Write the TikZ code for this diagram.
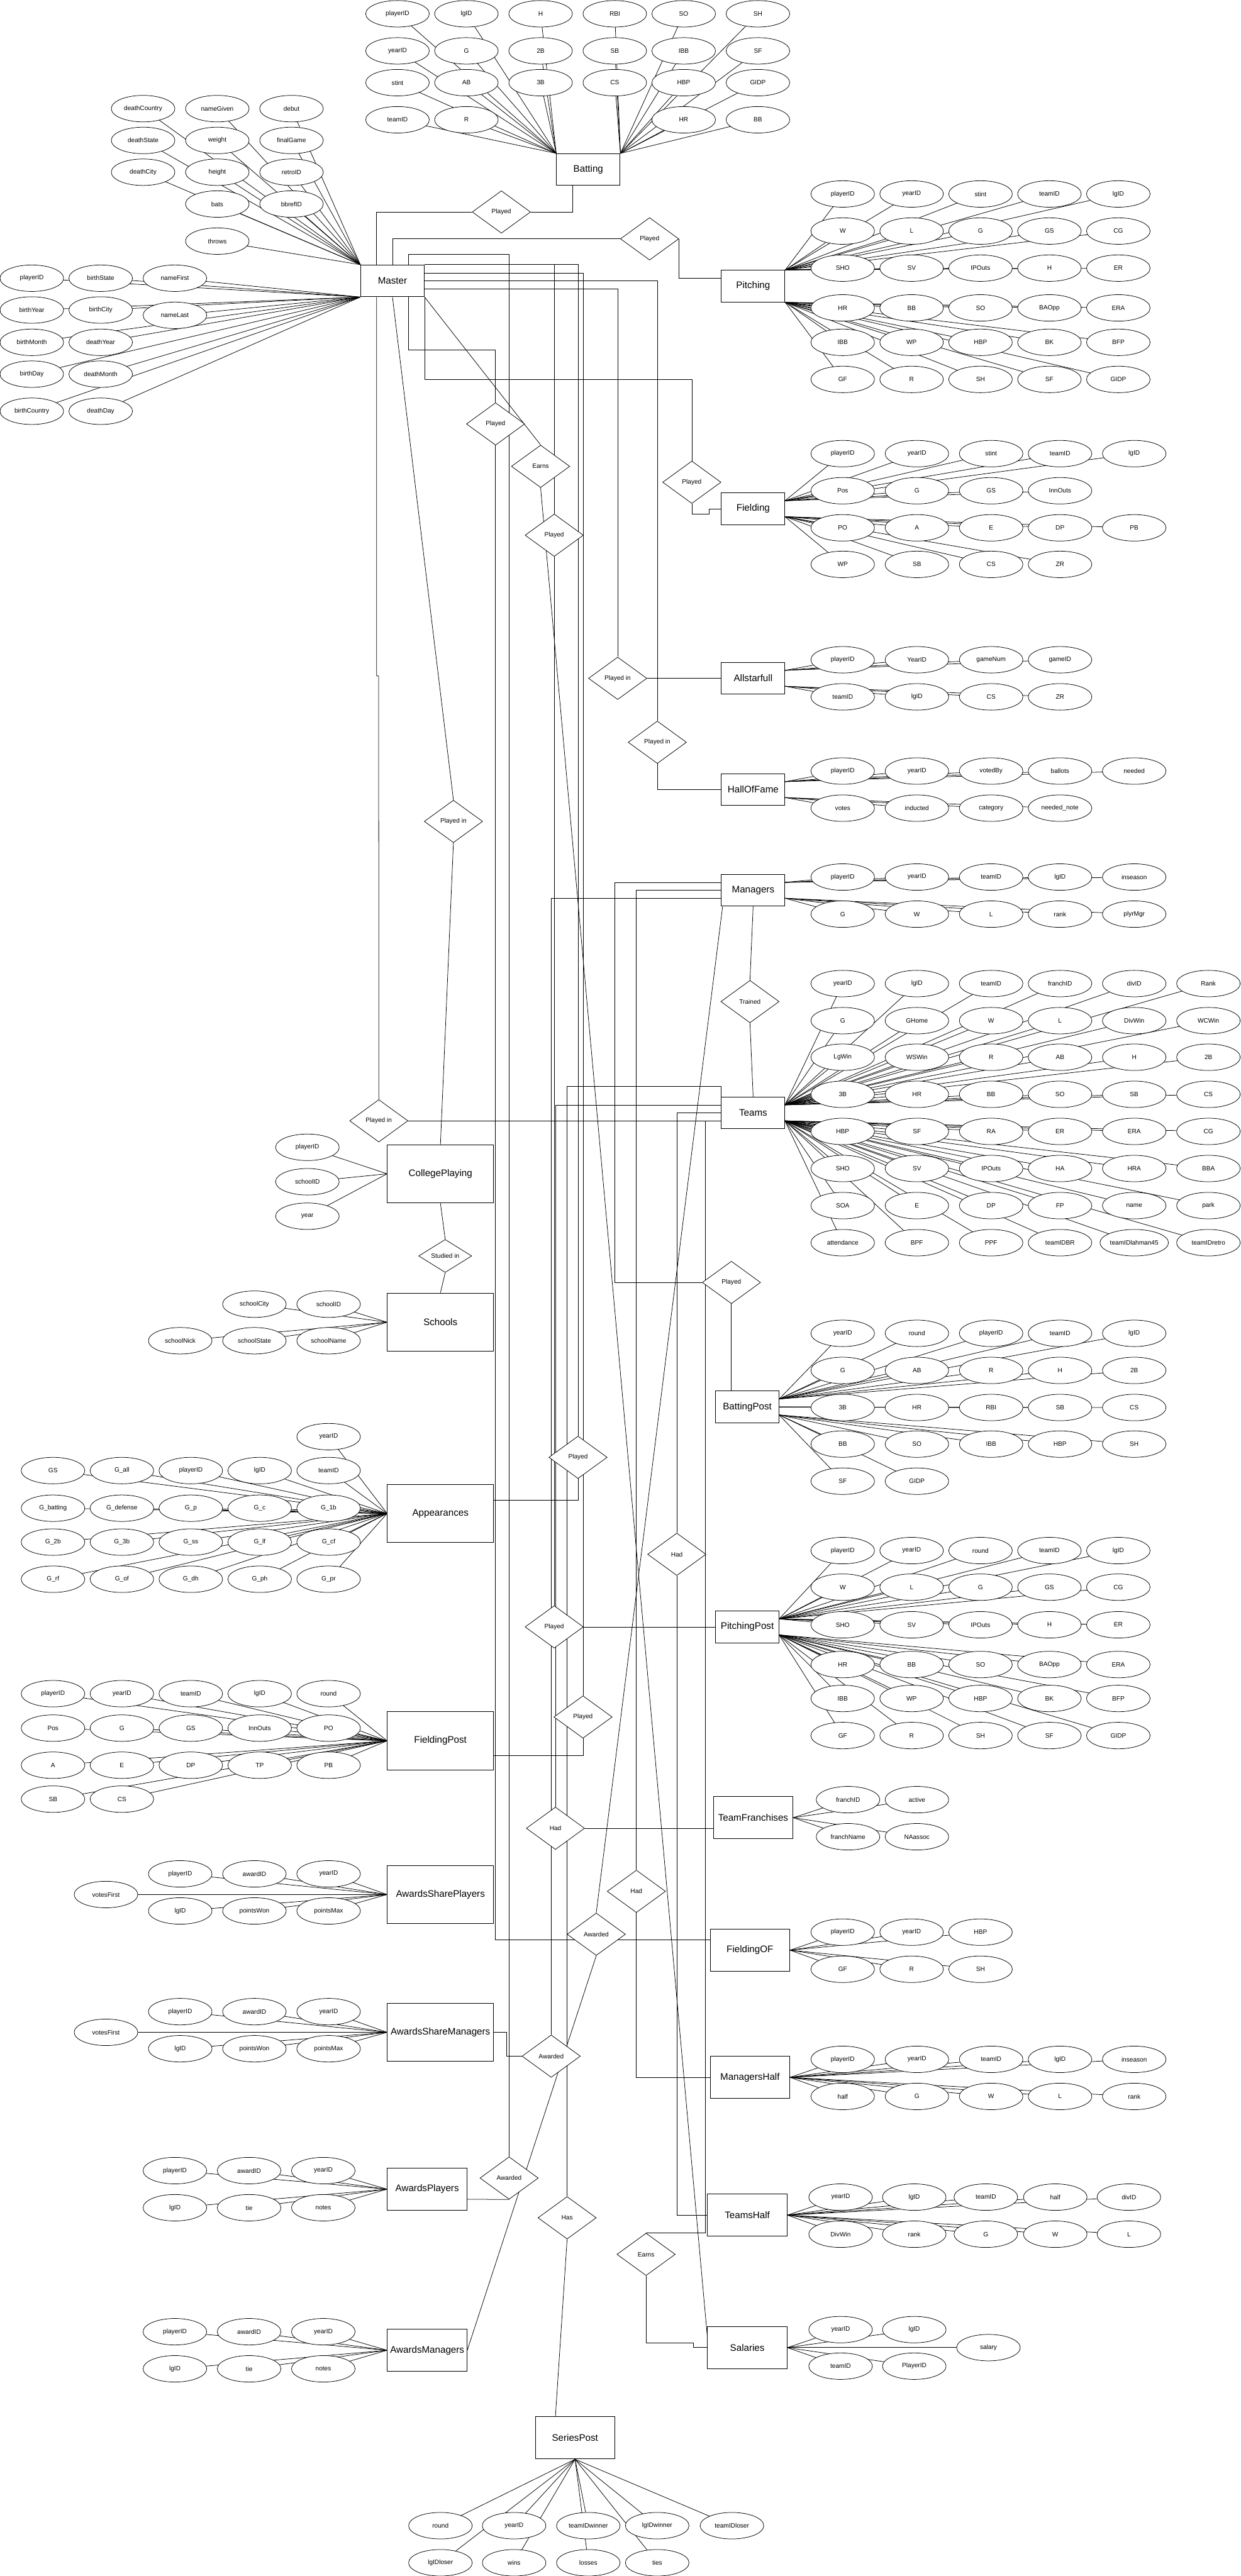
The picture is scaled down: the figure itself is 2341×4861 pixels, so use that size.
\documentclass[tikz,border=0pt]{standalone}
\usepackage{fontspec}
\setmainfont{Liberation Sans}
\usetikzlibrary{shapes.geometric}
\pgfdeclarelayer{bg}
\pgfsetlayers{bg,main}
\tikzset{
 attrib/.style={ellipse, draw, fill=white, line width=0.9pt, minimum width=120pt, minimum height=50pt, inner sep=0pt, font=\fontsize{12}{14}\selectfont},
 entity/.style={rectangle, draw, fill=white, line width=1.2pt, minimum width=120pt, minimum height=60pt, inner sep=0pt, font=\fontsize{18}{21}\selectfont},
 bigent/.style={entity, minimum width=200pt, minimum height=110pt},
 mident/.style={entity, minimum width=150pt, minimum height=80pt},
 rel/.style={diamond, draw, fill=white, line width=0.9pt, minimum width=110pt, minimum height=80pt, inner sep=0pt, font=\fontsize{12}{14}\selectfont},
 link/.style={draw, line width=0.9pt},
}
\def\linklist{}
\makeatletter
\newcommand\At[5]{\node[attrib] (#1) at (#2,#3) {#4};\g@addto@macro\linklist{\draw[link] (#1.center) -- (#5);}}
\makeatother
\begin{document}
\begin{tikzpicture}[x=1pt,y=-1pt]
\useasboundingbox (0,0) rectangle (2341,4861);
% ---------- Batting
\node[entity] (Batting) at (1110,320) {Batting};
\coordinate (baL) at (Batting.north west); \coordinate (baR) at (Batting.north east);
\At{ba1}{750}{26}{playerID}{baL}
\At{ba2}{880}{26}{lgID}{baL}
\At{ba3}{1020}{26}{H}{baL}
\At{ba4}{1160}{26}{RBI}{baR}
\At{ba5}{1290}{26}{SO}{baR}
\At{ba6}{1430}{26}{SH}{baR}
\At{ba7}{750}{96}{yearID}{baL}
\At{ba8}{880}{96}{G}{baL}
\At{ba9}{1020}{96}{2B}{baL}
\At{ba10}{1160}{96}{SB}{baR}
\At{ba11}{1290}{96}{IBB}{baR}
\At{ba12}{1430}{96}{SF}{baR}
\At{ba13}{750}{156}{stint}{baL}
\At{ba14}{880}{156}{AB}{baL}
\At{ba15}{1020}{156}{3B}{baL}
\At{ba16}{1160}{156}{CS}{baR}
\At{ba17}{1290}{156}{HBP}{baR}
\At{ba18}{1430}{156}{GIDP}{baR}
\At{ba19}{750}{226}{teamID}{baL}
\At{ba20}{880}{226}{R}{baL}
\At{ba21}{1290}{226}{HR}{baR}
\At{ba22}{1430}{226}{BB}{baR}
% ---------- Master
\node[entity] (Master) at (740.5,530) {Master};
\coordinate (mNW) at (Master.north west); \coordinate (mSW) at (Master.south west);
\At{m1}{270}{205}{deathCountry}{mNW}
\At{m2}{410}{205}{nameGiven}{mNW}
\At{m3}{550}{205}{debut}{mNW}
\At{m4}{270}{265}{deathState}{mNW}
\At{m5}{410}{265}{weight}{mNW}
\At{m6}{550}{265}{finalGame}{mNW}
\At{m7}{270}{325}{deathCity}{mNW}
\At{m8}{410}{325}{height}{mNW}
\At{m9}{550}{325}{retroID}{mNW}
\At{m10}{410}{385}{bats}{mNW}
\At{m11}{550}{385}{bbrefID}{mNW}
\At{m12}{410}{455}{throws}{mNW}
\At{m13}{60}{525}{playerID}{mSW}
\At{m14}{190}{525}{birthState}{mSW}
\At{m15}{330}{525}{nameFirst}{mSW}
\At{m16}{60}{585}{birthYear}{mSW}
\At{m17}{190}{585}{birthCity}{mSW}
\At{m18}{330}{595}{nameLast}{mSW}
\At{m19}{60}{646}{birthMonth}{mSW}
\At{m20}{190}{646}{deathYear}{mSW}
\At{m21}{60}{706}{birthDay}{mSW}
\At{m22}{190}{706}{deathMonth}{mSW}
\At{m23}{60}{776}{birthCountry}{mSW}
\At{m24}{190}{776}{deathDay}{mSW}
% ---------- Pitching
\node[entity] (Pitching) at (1421,540) {Pitching};
\coordinate (pA) at (Pitching.north east); \coordinate (pB) at (Pitching.south east);
\At{p1}{1590}{366}{playerID}{pA}
\At{p2}{1720}{366}{yearID}{pA}
\At{p3}{1850}{366}{stint}{pA}
\At{p4}{1980}{366}{teamID}{pA}
\At{p5}{2110}{366}{lgID}{pA}
\At{p6}{1590}{436}{W}{pA}
\At{p7}{1720}{436}{L}{pA}
\At{p8}{1850}{436}{G}{pA}
\At{p9}{1980}{436}{GS}{pA}
\At{p10}{2110}{436}{CG}{pA}
\At{p11}{1590}{506}{SHO}{pA}
\At{p12}{1720}{506}{SV}{pA}
\At{p13}{1850}{506}{IPOuts}{pA}
\At{p14}{1980}{506}{H}{pA}
\At{p15}{2110}{506}{ER}{pA}
\At{p16}{1590}{581}{HR}{pB}
\At{p17}{1720}{581}{BB}{pB}
\At{p18}{1850}{581}{SO}{pB}
\At{p19}{1980}{581}{BAOpp}{pB}
\At{p20}{2110}{581}{ERA}{pB}
\At{p21}{1590}{646}{IBB}{pB}
\At{p22}{1720}{646}{WP}{pB}
\At{p23}{1850}{646}{HBP}{pB}
\At{p24}{1980}{646}{BK}{pB}
\At{p25}{2110}{646}{BFP}{pB}
\At{p26}{1590}{716}{GF}{pB}
\At{p27}{1720}{716}{R}{pB}
\At{p28}{1850}{716}{SH}{pB}
\At{p29}{1980}{716}{SF}{pB}
\At{p30}{2110}{716}{GIDP}{pB}
% ---------- Fielding
\node[entity] (Fielding) at (1421,960) {Fielding};
\coordinate (fA) at (1481,945); \coordinate (fB) at (1481,975);
\At{f1}{1590}{856}{playerID}{fA}
\At{f2}{1730}{856}{yearID}{fA}
\At{f3}{1870}{856}{stint}{fA}
\At{f4}{2000}{856}{teamID}{fA}
\At{f5}{2140}{856}{lgID}{fA}
\At{f6}{1590}{926}{Pos}{fA}
\At{f7}{1730}{926}{G}{fA}
\At{f8}{1870}{926}{GS}{fA}
\At{f9}{2000}{926}{InnOuts}{fA}
\At{f10}{1590}{996}{PO}{fB}
\At{f11}{1730}{996}{A}{fB}
\At{f12}{1870}{996}{E}{fB}
\At{f13}{2000}{996}{DP}{fB}
\At{f14}{2140}{996}{PB}{fB}
\At{f15}{1590}{1065}{WP}{fB}
\At{f16}{1730}{1065}{SB}{fB}
\At{f17}{1870}{1065}{CS}{fB}
\At{f18}{2000}{1065}{ZR}{fB}
% ---------- Allstarfull
\node[entity] (Allstar) at (1421,1280) {Allstarfull};
\coordinate (asA) at (1481,1265); \coordinate (asB) at (1481,1295);
\At{as1}{1590}{1245}{playerID}{asA}
\At{as2}{1730}{1245}{YearID}{asA}
\At{as3}{1870}{1245}{gameNum}{asA}
\At{as4}{2000}{1245}{gameID}{asA}
\At{as5}{1590}{1315}{teamID}{asB}
\At{as6}{1730}{1315}{lgID}{asB}
\At{as7}{1870}{1315}{CS}{asB}
\At{as8}{2000}{1315}{ZR}{asB}
% ---------- HallOfFame
\node[entity] (Hall) at (1421,1490) {HallOfFame};
\coordinate (hA) at (1481,1475); \coordinate (hB) at (1481,1505);
\At{h1}{1590}{1455}{playerID}{hA}
\At{h2}{1730}{1455}{yearID}{hA}
\At{h3}{1870}{1455}{votedBy}{hA}
\At{h4}{2000}{1455}{ballots}{hA}
\At{h5}{2140}{1455}{needed}{hA}
\At{h6}{1590}{1525}{votes}{hB}
\At{h7}{1730}{1525}{inducted}{hB}
\At{h8}{1870}{1525}{category}{hB}
\At{h9}{2000}{1525}{needed\_note}{hB}
% ---------- Managers
\node[entity] (Managers) at (1421,1680) {Managers};
\coordinate (mgA) at (1481,1665); \coordinate (mgB) at (1481,1695);
\At{mg1}{1590}{1655}{playerID}{mgA}
\At{mg2}{1730}{1655}{yearID}{mgA}
\At{mg3}{1870}{1655}{teamID}{mgA}
\At{mg4}{2000}{1655}{lgID}{mgA}
\At{mg5}{2140}{1655}{inseason}{mgA}
\At{mg6}{1590}{1725}{G}{mgB}
\At{mg7}{1730}{1725}{W}{mgB}
\At{mg8}{1870}{1725}{L}{mgB}
\At{mg9}{2000}{1725}{rank}{mgB}
\At{mg10}{2140}{1725}{plyrMgr}{mgB}
% ---------- Teams
\node[entity] (Teams) at (1421,2100) {Teams};
\coordinate (tA) at (1481,2085); \coordinate (tB) at (1481,2115);
\At{t1}{1590}{1856}{yearID}{tA}
\At{t2}{1730}{1856}{lgID}{tA}
\At{t3}{1870}{1856}{teamID}{tA}
\At{t4}{2000}{1856}{franchID}{tA}
\At{t5}{2140}{1856}{divID}{tA}
\At{t6}{2280}{1856}{Rank}{tA}
\At{t7}{1590}{1926}{G}{tA}
\At{t8}{1730}{1926}{GHome}{tA}
\At{t9}{1870}{1926}{W}{tA}
\At{t10}{2000}{1926}{L}{tA}
\At{t11}{2140}{1926}{DivWin}{tA}
\At{t12}{2280}{1926}{WCWin}{tA}
\At{t13}{1590}{1995}{LgWin}{tA}
\At{t14}{1730}{1995}{WSWin}{tA}
\At{t15}{1870}{1995}{R}{tA}
\At{t16}{2000}{1995}{AB}{tA}
\At{t17}{2140}{1995}{H}{tA}
\At{t18}{2280}{1995}{2B}{tA}
\At{t19}{1590}{2065}{3B}{tA}
\At{t20}{1730}{2065}{HR}{tA}
\At{t21}{1870}{2065}{BB}{tA}
\At{t22}{2000}{2065}{SO}{tA}
\At{t23}{2140}{2065}{SB}{tA}
\At{t24}{2280}{2065}{CS}{tA}
\At{t25}{1590}{2135}{HBP}{tB}
\At{t26}{1730}{2135}{SF}{tB}
\At{t27}{1870}{2135}{RA}{tB}
\At{t28}{2000}{2135}{ER}{tB}
\At{t29}{2140}{2135}{ERA}{tB}
\At{t30}{2280}{2135}{CG}{tB}
\At{t31}{1590}{2205}{SHO}{tB}
\At{t32}{1730}{2205}{SV}{tB}
\At{t33}{1870}{2205}{IPOuts}{tB}
\At{t34}{2000}{2205}{HA}{tB}
\At{t35}{2140}{2205}{HRA}{tB}
\At{t36}{2280}{2205}{BBA}{tB}
\At{t37}{1590}{2275}{SOA}{tB}
\At{t38}{1730}{2275}{E}{tB}
\At{t39}{1870}{2275}{DP}{tB}
\At{t40}{2000}{2275}{FP}{tB}
\At{t41}{2140}{2275}{name}{tB}
\At{t42}{2280}{2275}{park}{tB}
\At{t43}{1590}{2345}{attendance}{tB}
\At{t44}{1730}{2345}{BPF}{tB}
\At{t45}{1870}{2345}{PPF}{tB}
\At{t46}{2000}{2345}{teamIDBR}{tB}
\At{t47}{2140}{2345}{teamIDlahman45}{tB}
\At{t48}{2280}{2345}{teamIDretro}{tB}
% ---------- CollegePlaying
\node[bigent] (College) at (831,2215) {CollegePlaying};
\At{cp1}{580}{2165}{playerID}{College.west}
\At{cp2}{580}{2230}{schoolID}{College.west}
\At{cp3}{580}{2295}{year}{College.west}
% ---------- Schools
\node[bigent] (Schools) at (831,2495) {Schools};
\At{s1}{480}{2461}{schoolCity}{Schools.west}
\At{s2}{620}{2461}{schoolID}{Schools.west}
\At{s3}{340}{2530}{schoolNick}{Schools.west}
\At{s4}{480}{2530}{schoolState}{Schools.west}
\At{s5}{620}{2530}{schoolName}{Schools.west}
% ---------- Appearances
\node[bigent] (Appear) at (831,2856) {Appearances};
\At{ap1}{620}{2711}{yearID}{Appear.west}
\At{ap2}{100}{2775}{GS}{Appear.west}
\At{ap3}{230}{2775}{G\_all}{Appear.west}
\At{ap4}{360}{2775}{playerID}{Appear.west}
\At{ap5}{490}{2775}{lgID}{Appear.west}
\At{ap6}{620}{2775}{teamID}{Appear.west}
\At{ap7}{100}{2846}{G\_batting}{Appear.west}
\At{ap8}{230}{2846}{G\_defense}{Appear.west}
\At{ap9}{360}{2846}{G\_p}{Appear.west}
\At{ap10}{490}{2846}{G\_c}{Appear.west}
\At{ap11}{620}{2846}{G\_1b}{Appear.west}
\At{ap12}{100}{2910}{G\_2b}{Appear.west}
\At{ap13}{230}{2910}{G\_3b}{Appear.west}
\At{ap14}{360}{2910}{G\_ss}{Appear.west}
\At{ap15}{490}{2910}{G\_lf}{Appear.west}
\At{ap16}{620}{2910}{G\_cf}{Appear.west}
\At{ap17}{100}{2980}{G\_rf}{Appear.west}
\At{ap18}{230}{2980}{G\_of}{Appear.west}
\At{ap19}{360}{2980}{G\_dh}{Appear.west}
\At{ap20}{490}{2980}{G\_ph}{Appear.west}
\At{ap21}{620}{2980}{G\_pr}{Appear.west}
% ---------- BattingPost
\node[entity] (BatPost) at (1410,2655) {BattingPost};
\coordinate (bpA) at (1470,2640); \coordinate (bpM) at (1470,2655); \coordinate (bpB) at (1470,2670);
\At{bp1}{1590}{2516}{yearID}{bpA}
\At{bp2}{1730}{2516}{round}{bpA}
\At{bp3}{1870}{2516}{playerID}{bpA}
\At{bp4}{2000}{2516}{teamID}{bpA}
\At{bp5}{2140}{2516}{lgID}{bpA}
\At{bp6}{1590}{2586}{G}{bpA}
\At{bp7}{1730}{2586}{AB}{bpA}
\At{bp8}{1870}{2586}{R}{bpA}
\At{bp9}{2000}{2586}{H}{bpA}
\At{bp10}{2140}{2586}{2B}{bpA}
\At{bp11}{1590}{2656}{3B}{bpM}
\At{bp12}{1730}{2656}{HR}{bpM}
\At{bp13}{1870}{2656}{RBI}{bpM}
\At{bp14}{2000}{2656}{SB}{bpM}
\At{bp15}{2140}{2656}{CS}{bpM}
\At{bp16}{1590}{2725}{BB}{bpB}
\At{bp17}{1730}{2725}{SO}{bpB}
\At{bp18}{1870}{2725}{IBB}{bpB}
\At{bp19}{2000}{2725}{HBP}{bpB}
\At{bp20}{2140}{2725}{SH}{bpB}
\At{bp21}{1590}{2795}{SF}{bpB}
\At{bp22}{1730}{2795}{GIDP}{bpB}
% ---------- PitchingPost
\node[entity] (PitPost) at (1410,3070) {PitchingPost};
\coordinate (ppA) at (1470,3055); \coordinate (ppB) at (1470,3085);
\At{pp1}{1590}{2926}{playerID}{ppA}
\At{pp2}{1720}{2926}{yearID}{ppA}
\At{pp3}{1850}{2926}{round}{ppA}
\At{pp4}{1980}{2926}{teamID}{ppA}
\At{pp5}{2110}{2926}{lgID}{ppA}
\At{pp6}{1590}{2995}{W}{ppA}
\At{pp7}{1720}{2995}{L}{ppA}
\At{pp8}{1850}{2995}{G}{ppA}
\At{pp9}{1980}{2995}{GS}{ppA}
\At{pp10}{2110}{2995}{CG}{ppA}
\At{pp11}{1590}{3066}{SHO}{ppA}
\At{pp12}{1720}{3066}{SV}{ppA}
\At{pp13}{1850}{3066}{IPOuts}{ppA}
\At{pp14}{1980}{3066}{H}{ppA}
\At{pp15}{2110}{3066}{ER}{ppA}
\At{pp16}{1590}{3141}{HR}{ppB}
\At{pp17}{1720}{3141}{BB}{ppB}
\At{pp18}{1850}{3141}{SO}{ppB}
\At{pp19}{1980}{3141}{BAOpp}{ppB}
\At{pp20}{2110}{3141}{ERA}{ppB}
\At{pp21}{1590}{3205}{IBB}{ppB}
\At{pp22}{1720}{3205}{WP}{ppB}
\At{pp23}{1850}{3205}{HBP}{ppB}
\At{pp24}{1980}{3205}{BK}{ppB}
\At{pp25}{2110}{3205}{BFP}{ppB}
\At{pp26}{1590}{3275}{GF}{ppB}
\At{pp27}{1720}{3275}{R}{ppB}
\At{pp28}{1850}{3275}{SH}{ppB}
\At{pp29}{1980}{3275}{SF}{ppB}
\At{pp30}{2110}{3275}{GIDP}{ppB}
% ---------- FieldingPost
\node[bigent] (FieldPost) at (831,3285) {FieldingPost};
\At{fp1}{100}{3196}{playerID}{FieldPost.west}
\At{fp2}{230}{3196}{yearID}{FieldPost.west}
\At{fp3}{360}{3196}{teamID}{FieldPost.west}
\At{fp4}{490}{3196}{lgID}{FieldPost.west}
\At{fp5}{620}{3196}{round}{FieldPost.west}
\At{fp6}{100}{3261}{Pos}{FieldPost.west}
\At{fp7}{230}{3261}{G}{FieldPost.west}
\At{fp8}{360}{3261}{GS}{FieldPost.west}
\At{fp9}{490}{3261}{InnOuts}{FieldPost.west}
\At{fp10}{620}{3261}{PO}{FieldPost.west}
\At{fp11}{100}{3331}{A}{FieldPost.west}
\At{fp12}{230}{3331}{E}{FieldPost.west}
\At{fp13}{360}{3331}{DP}{FieldPost.west}
\At{fp14}{490}{3331}{TP}{FieldPost.west}
\At{fp15}{620}{3331}{PB}{FieldPost.west}
\At{fp16}{100}{3395}{SB}{FieldPost.west}
\At{fp17}{230}{3395}{CS}{FieldPost.west}
% ---------- AwardsSharePlayers
\node[bigent] (ASP) at (831,3575) {AwardsSharePlayers};
\At{asp1}{340}{3536}{playerID}{ASP.west}
\At{asp2}{480}{3536}{awardID}{ASP.west}
\At{asp3}{620}{3536}{yearID}{ASP.west}
\At{asp4}{200}{3575}{votesFirst}{ASP.west}
\At{asp5}{340}{3606}{lgID}{ASP.west}
\At{asp6}{480}{3606}{pointsWon}{ASP.west}
\At{asp7}{620}{3606}{pointsMax}{ASP.west}
% ---------- AwardsShareManagers
\node[bigent] (ASM) at (831,3835) {AwardsShareManagers};
\At{asm1}{340}{3796}{playerID}{ASM.west}
\At{asm2}{480}{3796}{awardID}{ASM.west}
\At{asm3}{620}{3796}{yearID}{ASM.west}
\At{asm4}{200}{3835}{votesFirst}{ASM.west}
\At{asm5}{340}{3866}{lgID}{ASM.west}
\At{asm6}{480}{3866}{pointsWon}{ASM.west}
\At{asm7}{620}{3866}{pointsMax}{ASM.west}
% ---------- AwardsPlayers
\node[mident] (AP) at (806,4131) {AwardsPlayers};
\At{awp1}{330}{4096}{playerID}{AP.west}
\At{awp2}{470}{4096}{awardID}{AP.west}
\At{awp3}{610}{4096}{yearID}{AP.west}
\At{awp4}{330}{4166}{lgID}{AP.west}
\At{awp5}{470}{4166}{tie}{AP.west}
\At{awp6}{610}{4166}{notes}{AP.west}
% ---------- AwardsManagers
\node[mident] (AM) at (806,4435) {AwardsManagers};
\At{awm1}{330}{4400}{playerID}{AM.west}
\At{awm2}{470}{4400}{awardID}{AM.west}
\At{awm3}{610}{4400}{yearID}{AM.west}
\At{awm4}{330}{4470}{lgID}{AM.west}
\At{awm5}{470}{4470}{tie}{AM.west}
\At{awm6}{610}{4470}{notes}{AM.west}
% ---------- TeamFranchises
\node[mident] (TF) at (1421,3430) {TeamFranchises};
\At{tf1}{1600}{3396}{franchID}{TF.east}
\At{tf2}{1730}{3396}{active}{TF.east}
\At{tf3}{1600}{3466}{franchName}{TF.east}
\At{tf4}{1730}{3466}{NAassoc}{TF.east}
% ---------- FieldingOF
\node[mident] (FOF) at (1415,3680) {FieldingOF};
\At{fo1}{1590}{3646}{playerID}{FOF.east}
\At{fo2}{1720}{3646}{yearID}{FOF.east}
\At{fo3}{1850}{3646}{HBP}{FOF.east}
\At{fo4}{1590}{3716}{GF}{FOF.east}
\At{fo5}{1720}{3716}{R}{FOF.east}
\At{fo6}{1850}{3716}{SH}{FOF.east}
% ---------- ManagersHalf
\node[mident] (MH) at (1415,3920) {ManagersHalf};
\At{mh1}{1590}{3886}{playerID}{MH.east}
\At{mh2}{1730}{3886}{yearID}{MH.east}
\At{mh3}{1870}{3886}{teamID}{MH.east}
\At{mh4}{2000}{3886}{lgID}{MH.east}
\At{mh5}{2140}{3886}{inseason}{MH.east}
\At{mh6}{1590}{3956}{half}{MH.east}
\At{mh7}{1730}{3956}{G}{MH.east}
\At{mh8}{1870}{3956}{W}{MH.east}
\At{mh9}{2000}{3956}{L}{MH.east}
\At{mh10}{2140}{3956}{rank}{MH.east}
% ---------- TeamsHalf
\node[mident] (TH) at (1410,4180) {TeamsHalf};
\At{th1}{1586}{4146}{yearID}{TH.east}
\At{th2}{1725}{4146}{lgID}{TH.east}
\At{th3}{1860}{4146}{teamID}{TH.east}
\At{th4}{1991}{4146}{half}{TH.east}
\At{th5}{2130}{4146}{divID}{TH.east}
\At{th6}{1586}{4216}{DivWin}{TH.east}
\At{th7}{1725}{4216}{rank}{TH.east}
\At{th8}{1860}{4216}{G}{TH.east}
\At{th9}{1991}{4216}{W}{TH.east}
\At{th10}{2130}{4216}{L}{TH.east}
% ---------- Salaries
\node[mident] (Sal) at (1410,4430) {Salaries};
\At{sa1}{1586}{4396}{yearID}{Sal.east}
\At{sa2}{1725}{4396}{lgID}{Sal.east}
\At{sa3}{1865}{4430}{salary}{Sal.east}
\At{sa4}{1586}{4465}{teamID}{Sal.east}
\At{sa5}{1725}{4465}{PlayerID}{Sal.east}
% ---------- SeriesPost
\node[mident] (SP) at (1085,4600) {SeriesPost};
\At{sp1}{831}{4766}{round}{SP.south}
\At{sp2}{970}{4766}{yearID}{SP.south}
\At{sp3}{1110}{4766}{teamIDwinner}{SP.south}
\At{sp4}{1240}{4766}{lgIDwinner}{SP.south}
\At{sp5}{1381}{4766}{teamIDloser}{SP.south}
\At{sp6}{831}{4836}{lgIDloser}{SP.south}
\At{sp7}{970}{4836}{wins}{SP.south}
\At{sp8}{1110}{4836}{losses}{SP.south}
\At{sp9}{1240}{4836}{ties}{SP.south}
% ---------- relationships
\node[rel] (d1) at (946,400) {Played};
\node[rel] (d2) at (1225.6,450.7) {Played};
\node[rel] (d3) at (935,800) {Played};
\node[rel] (d4) at (1020,880) {Earns};
\node[rel] (d5) at (1045.7,1010) {Played};
\node[rel] (d6) at (1305.3,910) {Played};
\node[rel] (d7) at (1165.4,1280) {Played in};
\node[rel] (d8) at (1240.2,1400.7) {Played in};
\node[rel] (d9) at (855.5,1550) {Played in};
\node[rel] (d10) at (714.7,2115) {Played in};
\node[rel] (d11) at (1415,1890) {Trained};
\node[rel, minimum width=100pt, minimum height=60pt] (d12) at (840,2370) {Studied in};
\node[rel] (d13) at (1380,2420) {Played};
\node[rel] (d14) at (1090.6,2750) {Played};
\node[rel] (d15) at (1277,2933) {Had};
\node[rel] (d16) at (1045.7,3070) {Played};
\node[rel] (d17) at (1100,3240) {Played};
\node[rel] (d18) at (1048,3450) {Had};
\node[rel] (d19) at (1200.7,3569) {Had};
\node[rel] (d20) at (1125,3650) {Awarded};
\node[rel] (d21) at (1040,3880) {Awarded};
\node[rel] (d22) at (960.6,4110) {Awarded};
\node[rel] (d23) at (1070,4185) {Has};
\node[rel] (d24) at (1219,4254) {Earns};
\begin{pgfonlayer}{bg}
\fill[white] (0,0) rectangle (2341,4861);
\linklist
\draw[link] ([xshift=-30pt]Master.north) |- (d1.west);
\draw[link] (d1.east) -| ([xshift=-30pt]Batting.south);
\draw[link] (Master.north) |- (d2.west);
\draw[link] (d2.east) |- ([yshift=15pt]Pitching.west);
\draw[link] ([xshift=30pt]Master.north) -- ++(0,-20) -| (d22.north);
\draw[link] (Master.north east) -| (d5.north);
\draw[link] (Master.north east) -| (d14.north);
\draw[link] ([yshift=15pt]Master.east) -| (d17.north);
\draw[link] (Master.east) -| (d8.north);
\draw[link] ([yshift=-15pt]Master.east) -| (d7.north);
\draw[link] (d7.east) -- (Allstar.west);
\draw[link] (d8.south) |- (Hall.west);
\draw[link] (Master.south east) -- ++(0,155) -| (d6.north);
\draw[link] (d6.south) -- ++(0,20) -- ++(32.3,0) |- (Fielding.west);
\draw[link] (Master.south east) -- (d4.north);
\draw[link] (d4.south) -- ([yshift=-18pt]Sal.north west);
\draw[link] (Master.south) -- (d9.north);
\draw[link] (d9.south) -- (College.north);
\draw[link] ([xshift=30pt]Master.south) -- ++(0,100) -| (d3.north);
\draw[link] (d3.south) |- ([yshift=20pt]FOF.west);
\draw[link] ([xshift=-30pt]Master.south) -- ++(0,715) -- ++(4,0) -- (d10.north);
\draw[link] (d10.east) -- ([yshift=-15pt]Teams.west);
\draw[link] (d5.south) -- (d16.north);
\draw[link] (d16.east) -- (PitPost.west);
\draw[link] (Managers.south) -- (d11.north);
\draw[link] (d11.south) -- (Teams.north);
\draw[link] (College.south) -- (d12.north);
\draw[link] (d12.south) -- (Schools.north);
\draw[link] (d13.south) -- (BatPost.north -| d13.south);
\draw[link] ([yshift=15pt]Managers.west) -- ++(-200.4,0) |- (d13.west);
\draw[link] (Managers.west) -| (d19.north);
\draw[link] ([yshift=-15pt]Managers.west) -| (d21.north);
\draw[link] ([xshift=3pt]Managers.south west) -- (d20.north);
\draw[link] (d20.south) -- (AM.east);
\draw[link] (ASM.east) -- ++(24,0) |- (d21.west);
\draw[link] (d19.south) |- (MH.west);
\draw[link] ([yshift=-19pt]AP.east) -- (d22.south);
\draw[link] ([yshift=25pt]Appear.east) -| (d14.south);
\draw[link] ([yshift=-28pt]FieldPost.east) -| (d17.south);
\draw[link] (Teams.west) -| (d15.north);
\draw[link] (d15.south) |- (TH.west);
\draw[link] ([yshift=15pt]Teams.west) -| (d18.north);
\draw[link] (d18.east) -- ([yshift=-20pt]TF.west);
\draw[link] (Teams.north west) -- ++(0,-20) -| (d23.north);
\draw[link] (d23.south) -- ([xshift=-37pt]SP.north);
\draw[link] ([yshift=-15pt]Teams.west) -- ++(-30,0) |- (d24.north);
\draw[link] (d24.south) |- (1300,4421) -- (1308,4421) -- (1308,4430) -- (Sal.west);
\end{pgfonlayer}
\end{tikzpicture}
\end{document}
